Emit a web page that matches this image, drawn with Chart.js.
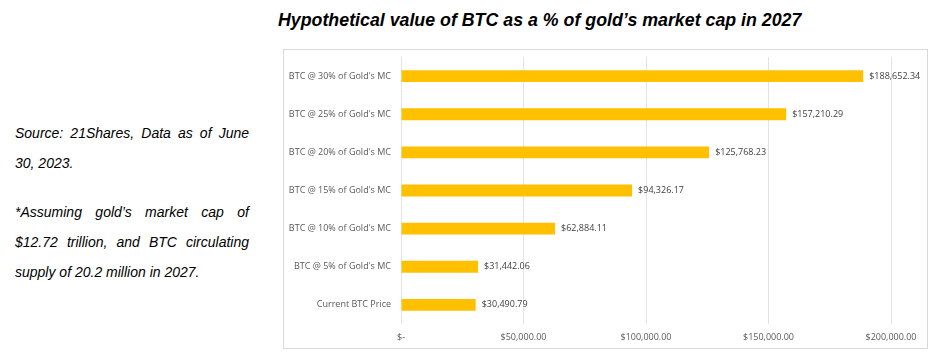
<!DOCTYPE html>
<html>
<head>
<meta charset="utf-8">
<script src="https://cdn.jsdelivr.net/npm/chart.js@4.4.0/dist/chart.umd.min.js"></script>
<style>
  body { margin: 0; width: 936px; height: 354px; background: #fff; position: relative; overflow: hidden; }
  #title { position: absolute; left: 278px; top: 10px; font: italic bold 17.8px "Liberation Sans", Arial, sans-serif; color: #000; white-space: nowrap; }
  #note { position: absolute; left: 15px; top: 118px; width: 234px; font: italic 14px "Liberation Sans", Arial, sans-serif; color: #000; }
  #note div { height: 30px; line-height: 30px; white-space: nowrap; }
  #note .j { text-align: justify; text-align-last: justify; white-space: normal; }
  #note .gap { height: 19px; }
  #box { position: absolute; left: 283px; top: 49px; width: 643px; height: 298px; border: 1px solid #d9d9d9; }
  #chart { position: absolute; left: 283px; top: 49px; }
</style>
</head>
<body>
<div id="title">Hypothetical value of BTC as a % of gold’s market cap in 2027</div>
<div id="note">
  <div class="j">Source: 21Shares, Data as of June</div>
  <div>30, 2023.</div>
  <div class="gap"></div>
  <div class="j">*Assuming gold’s market cap of</div>
  <div class="j">$12.72 trillion, and BTC circulating</div>
  <div>supply of 20.2 million in 2027.</div>
</div>
<div id="box"></div>
<canvas id="chart" width="644" height="299"></canvas>
<script>
var categories = ["BTC @ 30% of Gold's MC", "BTC @ 25% of Gold's MC", "BTC @ 20% of Gold's MC",
  "BTC @ 15% of Gold's MC", "BTC @ 10% of Gold's MC", "BTC @ 5% of Gold's MC", "Current BTC Price"];
var values = [188652.34, 157210.29, 125768.23, 94326.17, 62884.11, 31442.06, 30490.79];
var xTicks = [0, 50000, 100000, 150000, 200000];

function money(v) {
  if (v === 0) return '$-';
  return '$' + v.toLocaleString('en-US', { minimumFractionDigits: 2, maximumFractionDigits: 2 });
}

var labelFont = '9px "Open Sans", sans-serif';

var valueLabels = {
  id: 'valueLabels',
  afterDatasetsDraw: function (chart) {
    var ctx = chart.ctx;
    var meta = chart.getDatasetMeta(0);
    ctx.save();
    ctx.font = labelFont;
    ctx.fillStyle = '#404040';
    ctx.textBaseline = 'middle';
    ctx.textAlign = 'left';
    meta.data.forEach(function (bar, i) {
      ctx.fillText(money(values[i]), bar.x + 6, bar.y);
    });
    ctx.restore();
  }
};

var ctx = document.getElementById('chart').getContext('2d');
window.myBar = new Chart(ctx, {
  type: 'bar',
  data: {
    labels: categories,
    datasets: [{
      data: values,
      backgroundColor: '#FFC000',
      barPercentage: 0.62,
      categoryPercentage: 0.5
    }]
  },
  options: {
    indexAxis: 'y',
    responsive: false,
    animation: false,
    layout: { padding: { top: 8, right: 36, left: 0, bottom: 0 } },
    plugins: { legend: { display: false }, tooltip: { enabled: false } },
    scales: {
      x: {
        min: 0,
        max: 200000,
        afterBuildTicks: function (scale) {
          scale.ticks = xTicks.map(function (v) { return { value: v }; });
        },
        afterFit: function (scale) { scale.height = 24; },
        grid: { color: '#e3e3e3', drawTicks: false },
        border: { display: false },
        ticks: {
          padding: 8,
          color: '#595959',
          font: { family: 'Open Sans', size: 9 },
          callback: function (v) { return money(v); }
        }
      },
      y: {
        afterFit: function (scale) { scale.width = 118; },
        grid: { display: true, drawOnChartArea: false, drawTicks: true, tickLength: 10, tickColor: 'rgba(0,0,0,0)' },
        border: { display: false },
        ticks: {
          padding: 0,
          color: '#595959',
          font: { family: 'Open Sans', size: 9 }
        }
      }
    }
  },
  plugins: [valueLabels]
});
</script>
</body>
</html>
